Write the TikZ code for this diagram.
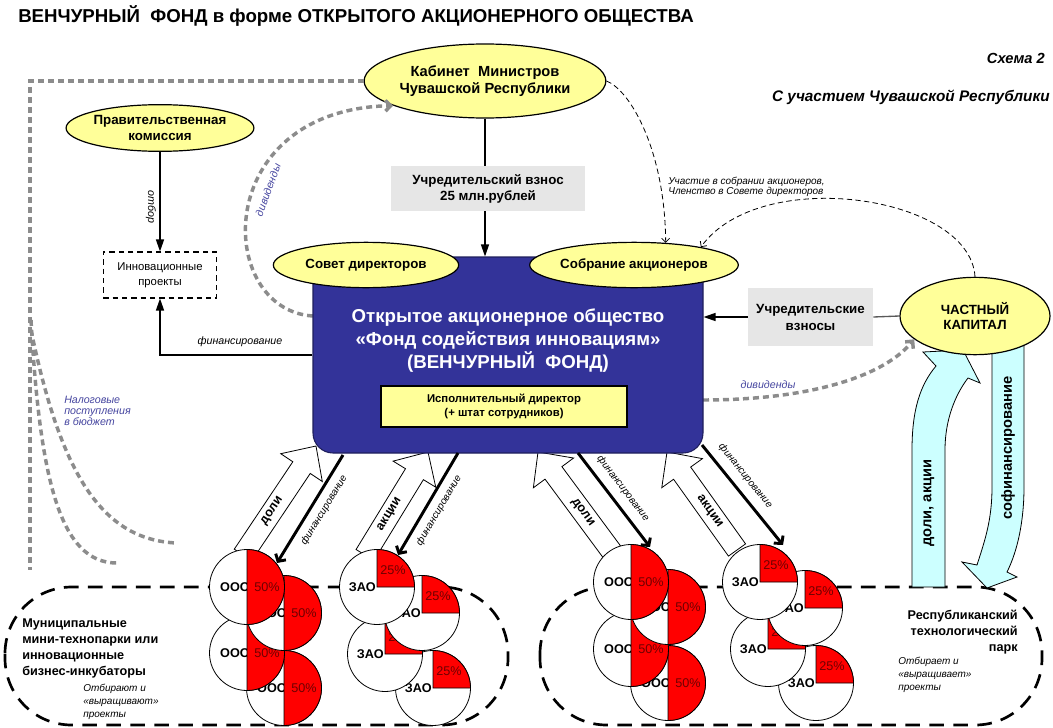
\documentclass[tikz,border=0pt]{standalone}
\usepackage{fontspec}
\setmainfont{Liberation Sans}
\usetikzlibrary{shapes.geometric,arrows.meta,calc}
\definecolor{ellfill}{RGB}{255,255,153}
\definecolor{fundblue}{RGB}{51,51,153}
\definecolor{boxgray}{RGB}{230,230,230}
\definecolor{dgray}{RGB}{140,140,140}
\definecolor{cyanf}{RGB}{204,255,255}
\definecolor{lblblue}{RGB}{70,70,160}
\definecolor{pctred}{RGB}{110,0,0}
\newcommand\myfs[2]{\fontsize{#1}{#2}\selectfont}
\newcommand\oooCircle[3]{%
  \draw[fill=white,line width=0.6pt] (#1,#2) circle[radius=37.5];
  \node[font=\bfseries\myfs{9.5}{11},anchor=east,inner sep=0pt] (#3a) at (#1+3,#2) {ООО};
  \draw[fill=red,line width=0.6pt] (#1,#2-37.5) arc[start angle=-90,end angle=90,radius=37.5] -- cycle;
  \node[font=\myfs{9.5}{11},text=pctred,inner sep=0pt] (#3b) at (#1+20,#2) {50\%};
}
\newcommand\zaoCircle[3]{%
  \draw[fill=white,line width=0.6pt] (#1,#2) circle[radius=37.5];
  \node[font=\bfseries\myfs{9.5}{11},anchor=east,inner sep=0pt] (#3a) at (#1-1,#2) {ЗАО};
  \draw[fill=red,line width=0.6pt] (#1,#2) -- (#1,#2-37.5) arc[start angle=-90,end angle=0,radius=37.5] -- cycle;
  \node[font=\myfs{9.5}{11},text=pctred,inner sep=0pt] (#3b) at (#1+16,#2-17) {25\%};
}
\newcommand\hollowarrow[6]{%
  \pgfmathsetmacro\haAng{atan2((#2)-(#4),(#3)-(#1))}%
  \pgfmathsetmacro\haLen{10*veclen(((#3)-(#1))/10,((#4)-(#2))/10)}%
  \pgfmathsetmacro\haLab{\haAng>90 ? \haAng-180 : \haAng}%
  \pgfmathsetmacro\haF{(\haLen+26)/(2*\haLen)}%
  \pgfmathsetmacro\haX{#3-((#3)-(#1))*\haF}%
  \pgfmathsetmacro\haY{#4-((#4)-(#2))*\haF}%
  \begin{scope}[shift={(#3,#4)},rotate=\haAng]
    \draw[fill=white,line width=0.6pt] (0,0) -- (-26,25) -- (-26,10.5) -- (-\haLen,10.5) -- (-\haLen,-10.5) -- (-26,-10.5) -- (-26,-25) -- cycle;
  \end{scope}
  \node[rotate=\haLab,font=\bfseries\myfs{9.5}{11},inner sep=0pt] (#6) at (\haX,\haY) {#5};
}
\begin{document}
\begin{tikzpicture}[x=0.75pt,y=-0.75pt,
  ellnode/.style={ellipse,draw,line width=0.9pt,fill=ellfill,inner sep=0pt,align=center,font=\bfseries\myfs{10}{12}},
  graybox/.style={rectangle,fill=boxgray,inner sep=0pt,align=center,font=\bfseries\myfs{10}{12}},
  gdash/.style={draw=dgray,line width=2.6pt,dash pattern=on 4.5pt off 3pt},
  gtip/.style={-{Straight Barb[length=4pt,width=8pt]}},
  thindash/.style={line width=0.6pt,dash pattern=on 4pt off 2.5pt,-{Straight Barb[length=3pt,width=6pt]}},
  bigdash/.style={line width=2pt,dash pattern=on 11pt off 7pt},
  cyanarrow/.style={draw,line width=0.6pt,fill=cyanf},
  finarrow/.style={line width=2.2pt,-{Straight Barb[length=4pt,width=9pt]}},
  finlbl/.style={font=\itshape\myfs{7.5}{9},sloped,inner sep=5pt},
  lbl/.style={font=\itshape\myfs{8}{8.5},text=lblblue,inner sep=0pt},
  solidarr/.style={line width=1pt,-{Triangle[length=9pt,width=6pt]}}
]
\fill[white] (0,0) rectangle (1053,728);
\useasboundingbox (0,0) rectangle (1053,728);

% zones
\draw[bigdash,rounded corners=50pt] (5,587) rectangle (508,725);
\draw[bigdash,rounded corners=50pt] (540,587) rectangle (1042,725);

% nodes (upper part)
\node[ellnode,minimum width=175.5pt,minimum height=55.5pt,font=\bfseries\myfs{11}{12.75}] (cab) at (485,81) {Кабинет~~Министров\\Чувашской Республики};
\node[ellnode,minimum width=140pt,minimum height=35pt] (kom) at (160,128) {Правительственная\\комиссия};
\node[draw,line width=0.8pt,dash pattern=on 4pt off 3pt,minimum width=85pt,minimum height=34.5pt,inner sep=0pt,align=center,font=\myfs{8.5}{11}] (innov) at (160,275) {Инновационные\\проекты};
\node[graybox,minimum width=145.5pt,minimum height=33.75pt] (vzn) at (488,188.5) {Учредительский взнос\\25 млн.рублей};
\node[graybox,minimum width=93.75pt,minimum height=43.5pt,font=\bfseries\myfs{10}{12.75}] (vzn2) at (810.5,317) {Учредительские\\взносы};

% gray dashed lines
\coordinate (taxbot) at (30,570);
\coordinate (tx1) at (31,320);
\coordinate (tx2) at (31,330);
\coordinate (te1) at (117,563);
\coordinate (te2) at (177,543);
\draw[gdash] (cab.west) -| (taxbot);
\draw[gdash] (tx1) .. controls (40,480) and (60,563) .. (te1);
\draw[gdash] (tx2) .. controls (60,470) and (100,540) .. (te2);
\coordinate (dvl) at (313,316);
\draw[gdash,gtip] (dvl) .. controls (215,310) and (210,110) .. (cab.195);
\coordinate (dvr) at (703,400);

% cyan arrows
\draw[cyanarrow] (912,587) -- (912,450) .. controls (912,410) and (920,385) .. (936,366) -- (923,352) -- (963,350) -- (980,383) -- (968,378) .. controls (955,395) and (945,420) .. (945,450) -- (945,587) -- cycle;
\draw[cyanarrow] (992,340) -- (992,487) .. controls (992,520) and (985,540) .. (977,565) -- (962,562) -- (987,588) -- (1017,577) -- (1007,572) .. controls (1018,550) and (1024,520) .. (1024,487) -- (1024,340) -- cycle;
\node[ellnode,minimum width=112.5pt,minimum height=58pt,font=\bfseries\myfs{10}{11.5}] (cap) at (975,316) {ЧАСТНЫЙ\\КАПИТАЛ};
\node[rotate=90,font=\bfseries\myfs{11}{13},inner sep=0pt] (dolakc) at (929,503) {доли, акции};
\node[rotate=90,font=\bfseries\myfs{11}{13},inner sep=0pt] (sofin) at (1008,448) {софинансирование};
\draw[gdash,gtip] (dvr) .. controls (800,400) and (880,380) .. (cap.201);

% hollow arrows
\hollowarrow{243}{555}{316}{446}{доли}{ha1}
\hollowarrow{365}{555}{428}{452}{акции}{ha2}
\hollowarrow{612}{552}{538}{452}{доли}{ha3}
\hollowarrow{737}{550}{667}{452}{акции}{ha4}

% fund
\node[fill=fundblue,draw=fundblue!60!black,line width=0.8pt,rounded corners=15pt,minimum width=292.5pt,minimum height=147pt,inner sep=0pt] (fund) at (508,355) {};
\node[text=white,font=\bfseries\myfs{14}{17.25},align=center,inner sep=0pt] (fundtxt) at (508,341) {Открытое акционерное общество\\«Фонд содействия инновациям»\\(ВЕНЧУРНЫЙ~~ФОНД)};
\node[draw,fill=ellfill,line width=0.8pt,minimum width=184.5pt,minimum height=30.75pt,inner sep=0pt,align=center,font=\bfseries\myfs{8.5}{11}] (isp) at (504,406.5) {Исполнительный директор\\(+ штат сотрудников)};
\node[ellnode,minimum width=139pt,minimum height=34pt] (sovet) at (366,265) {Совет директоров};
\node[ellnode,minimum width=142pt,minimum height=34pt] (sobr) at (634,265) {Собрание акционеров};

% circles
\oooCircle{284}{688}{oa}
\oooCircle{247}{653}{ob}
\oooCircle{284}{613}{oc}
\oooCircle{247}{587}{od}
\zaoCircle{433}{688}{za}
\zaoCircle{385}{654}{zb}
\zaoCircle{422}{613}{zc}
\zaoCircle{377}{587}{zd}
\oooCircle{668}{683}{oe}
\oooCircle{631}{649}{of}
\oooCircle{668}{607}{og}
\oooCircle{631}{582}{oh}
\zaoCircle{816}{683}{ze}
\zaoCircle{768}{649}{zf}
\zaoCircle{805}{608}{zg}
\zaoCircle{760}{582}{zh}

% financing lines
\coordinate (f1s) at (343,455); \coordinate (f1e) at (277,563);
\coordinate (f2s) at (458,453); \coordinate (f2e) at (398,555);
\coordinate (f3s) at (578,453); \coordinate (f3e) at (650,547);
\coordinate (f4s) at (702,445); \coordinate (f4e) at (783,545);
\draw[finarrow] (f1s) -- node[finlbl,below,pos=0.45] (fl1) {финансирование} (f1e);
\draw[finarrow] (f2s) -- node[finlbl,below,pos=0.5] (fl2) {финансирование} (f2e);
\draw[finarrow] (f3s) -- node[finlbl,above,pos=0.47,inner sep=6pt] (fl3) {финансирование} (f3e);
\draw[finarrow] (f4s) -- node[finlbl,above,pos=0.4,inner sep=6pt] (fl4) {финансирование} (f4e);

% connectors
\draw[line width=1pt] (cab.south) -- (cab.south |- vzn.north);
\draw[solidarr] (cab.south |- vzn.south) -- (cab.south |- fund.north);
\draw[solidarr] (kom.south) -- (innov.north);
\node[rotate=-90,font=\itshape\myfs{8}{9},inner sep=0pt] (otbor) at (151,207) {отбор};
\draw[solidarr] (fund.west) -| (innov.south);
\node[font=\itshape\myfs{8}{9},inner sep=0pt] (finh) at (240,342) {финансирование};
\draw[line width=1pt,draw=black!65] (cap.west) -- (vzn2.east);
\draw[solidarr] (vzn2.west) -- (vzn2.west -| fund.east);
\draw[thindash] (cab.east) .. controls (630,90) and (665,150) .. (sobr.35);
\draw[thindash] (cap.north) .. controls (970,195) and (760,165) .. (sobr.15);
\node[font=\itshape\myfs{7.5}{8},align=left,anchor=west,inner sep=0pt] (uch) at (668,187) {Участие в собрании акционеров,\\Членство в Совете директоров};

% blue labels
\node[lbl,rotate=70] (dl) at (268,190) {дивиденды};
\node[lbl] (dr) at (768,385) {дивиденды};
\node[lbl,align=left,anchor=west] (tax) at (64,411) {Налоговые\\поступления\\в бюджет};

% texts
\node[anchor=west,font=\bfseries\myfs{14}{16},inner sep=0pt] (title) at (18,16) {ВЕНЧУРНЫЙ~~ФОНД в форме ОТКРЫТОГО АКЦИОНЕРНОГО ОБЩЕСТВА};
\node[anchor=east,font=\bfseries\itshape\myfs{11}{13},inner sep=0pt] (schema) at (1045,58) {Схема 2};
\node[anchor=east,font=\bfseries\itshape\myfs{11.5}{13},inner sep=0pt] (subt) at (1050,97) {С участием Чувашской Республики};
\node[anchor=west,align=left,font=\bfseries\myfs{9.5}{12},inner sep=0pt] (muni) at (22,648) {Муниципальные\\мини-технопарки или\\инновационные\\бизнес-инкубаторы};
\node[anchor=west,align=left,font=\itshape\myfs{7.5}{9.75},inner sep=0pt] (otb1) at (83,702) {Отбирают и\\«выращивают»\\проекты};
\node[anchor=east,align=right,font=\bfseries\myfs{9.5}{12},inner sep=0pt] (rtp) at (1018,632) {Республиканский\\технологический\\парк};
\node[anchor=west,align=left,font=\itshape\myfs{7.5}{9.75},inner sep=0pt] (otb2) at (898,675) {Отбирает и\\«выращивает»\\проекты};
\end{tikzpicture}
\end{document}
